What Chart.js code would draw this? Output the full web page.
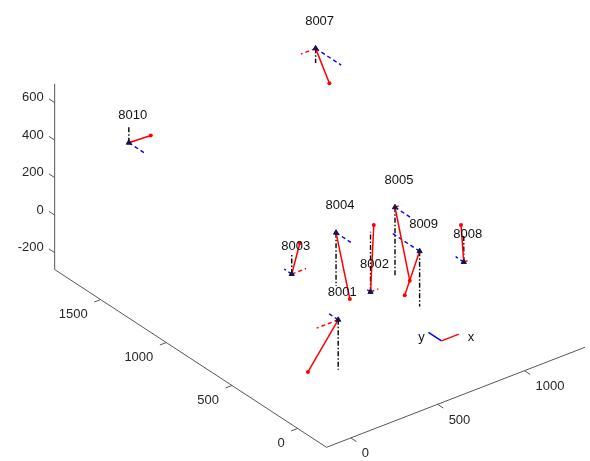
<!DOCTYPE html>
<html>
<head>
<meta charset="utf-8">
<script src="https://cdn.jsdelivr.net/npm/chart.js@4.4.1/dist/chart.umd.min.js"></script>
<style>
  html, body { margin: 0; padding: 0; background: #ffffff; }
  #wrap { width: 590px; height: 461px; position: relative; }
</style>
</head>
<body>
<div id="wrap"><canvas id="c"></canvas></div>
<script>
// Monitoring stations: position in the site frame
const stations = ['8001', '8002', '8003', '8004', '8005', '8007', '8008', '8009', '8010'];
const posX = [307, 578, 392, 781, 1135, 1208, 1081, 981, 114];
const posY = [282, 394, 748, 925, 944, 1645, 349, 553, 1621];
const posZ = [0, 0, 0, 0, 0, 500, 0, 0, 400];

// Component lines drawn from each station (x: red dashed, y: blue dashed, z: black dash-dot)
const compX = [-124, 45, 82, 3, 38, -85, 28, 5, 25];
const compY = [74, 27, 57, -113, -130, -195, 62, 218, -123];
const compZ = [-266, 321, 104, -284, -365, -78, 139, -295, 91];

// Resulting vector for each station (red solid, dot at the tip)
const vecX = [-122, 49, 93, -22, 26, -62, 50, 9, 25];
const vecY = [69, 40, 61, -134, -78, -187, 87, 125, -134];
const vecZ = [-266, 321, 104, -284, -365, -78, 139, -295, 91];

// Axis limits and ticks
const xLim = [-140, 1400];
const yLim = [-220, 1850];
const zLim = [-290, 700];
const xTicks = [0, 500, 1000];
const yTicks = [0, 500, 1000, 1500];
const zTicks = [-200, 0, 200, 400, 600];

// Orientation glyph (origin and arm length)
const glyphOrigin = [564, -165, 0];
const glyphLen = 100;

// ---- view: orthographic projection of the 3D frame onto the page ----
const VIEW = {
  o: [322.4, 367.6],
  ex: [0.1766, -0.0687],
  ey: [-0.1336, -0.0878],
  ez: [0, -0.1917]
};
function project(x, y, z) {
  return {
    x: VIEW.o[0] + x * VIEW.ex[0] + y * VIEW.ey[0] + z * VIEW.ez[0],
    y: VIEW.o[1] + x * VIEW.ex[1] + y * VIEW.ey[1] + z * VIEW.ez[1]
  };
}
function unit(v) { const n = Math.hypot(v[0], v[1]); return [v[0] / n, v[1] / n]; }

const RED = '#ff0000', BLUE = '#0000ff', BLACK = '#000000', AXIS = '#555555';
const TICK_LEN = 7;

const datasets = [];
function segment(a, b, opts) {
  datasets.push(Object.assign({
    data: [a, b],
    showLine: true,
    fill: false,
    borderWidth: 1.4,
    pointRadius: 0,
    pointHoverRadius: 0,
    order: 2
  }, opts));
}

// axis lines
const corner = project(xLim[0], yLim[0], zLim[0]);
segment(project(xLim[0], yLim[1], zLim[0]), corner, { borderColor: AXIS, borderWidth: 1, order: 5 });
segment(corner, project(xLim[1], yLim[0], zLim[0]), { borderColor: AXIS, borderWidth: 1, order: 5 });
segment(project(xLim[0], yLim[1], zLim[0]), project(xLim[0], yLim[1], zLim[1]), { borderColor: AXIS, borderWidth: 1, order: 5 });

// tick marks
const dirX = unit([-VIEW.ey[0], -VIEW.ey[1]]);   // ticks on the x axis
const dirY = unit([-VIEW.ex[0], -VIEW.ex[1]]);   // ticks on the y axis
const dirZ = unit([VIEW.ey[0], VIEW.ey[1]]);     // ticks on the z axis
const tickAnchors = { x: [], y: [], z: [] };
xTicks.forEach(v => {
  const p = project(v, yLim[0], zLim[0]);
  tickAnchors.x.push(p);
  segment(p, { x: p.x + dirX[0] * TICK_LEN, y: p.y + dirX[1] * TICK_LEN }, { borderColor: AXIS, borderWidth: 1, order: 5 });
});
yTicks.forEach(v => {
  const p = project(xLim[0], v, zLim[0]);
  tickAnchors.y.push(p);
  segment(p, { x: p.x + dirY[0] * TICK_LEN, y: p.y + dirY[1] * TICK_LEN }, { borderColor: AXIS, borderWidth: 1, order: 5 });
});
zTicks.forEach(v => {
  const p = project(xLim[0], yLim[1], v);
  tickAnchors.z.push(p);
  segment(p, { x: p.x + dirZ[0] * TICK_LEN, y: p.y + dirZ[1] * TICK_LEN }, { borderColor: AXIS, borderWidth: 1, order: 5 });
});

// station component lines and vectors
const markerPts = [];
stations.forEach((name, i) => {
  const X = posX[i], Y = posY[i], Z = posZ[i];
  const s = project(X, Y, Z);
  markerPts.push(s);
  segment(s, project(X, Y, Z + compZ[i]), { borderColor: BLACK, borderDash: [5, 2, 1.5, 2], order: 3 });
  segment(s, project(X, Y + compY[i], Z), { borderColor: BLUE, borderDash: [4, 3], order: 2 });
  segment(s, project(X + compX[i], Y, Z), { borderColor: RED, borderDash: [4, 3], order: 2 });
  segment(s, project(X + vecX[i], Y + vecY[i], Z + vecZ[i]), {
    borderColor: RED, borderWidth: 1.5, order: 1,
    pointRadius: [0, 2], pointBackgroundColor: RED, pointBorderColor: RED, pointBorderWidth: 0
  });
});

// station markers
datasets.push({
  data: markerPts,
  showLine: false,
  pointStyle: 'triangle',
  pointRadius: 3,
  pointBackgroundColor: '#15154a',
  pointBorderColor: '#15154a',
  pointBorderWidth: 1,
  order: 0
});

// orientation glyph
const gO = project(glyphOrigin[0], glyphOrigin[1], glyphOrigin[2]);
const gX = project(glyphOrigin[0] + glyphLen, glyphOrigin[1], glyphOrigin[2]);
const gY = project(glyphOrigin[0], glyphOrigin[1] + glyphLen, glyphOrigin[2]);
segment(gO, gX, { borderColor: RED, borderWidth: 1.5, order: 1 });
segment(gO, gY, { borderColor: BLUE, borderWidth: 1.5, order: 1 });

const LABEL_LIFT = 145;
const FONT = '13px "Liberation Sans", Arial, Helvetica, sans-serif';

const textPlugin = {
  id: 'text3d',
  afterDatasetsDraw(chart) {
    const ctx = chart.ctx, sx = chart.scales.x, sy = chart.scales.y;
    const px = p => ({ x: sx.getPixelForValue(p.x), y: sy.getPixelForValue(p.y) });
    ctx.save();
    ctx.font = FONT;
    ctx.fillStyle = '#262626';
    ctx.textBaseline = 'middle';

    // z tick labels
    ctx.textAlign = 'right';
    zTicks.forEach((v, k) => {
      const a = px(tickAnchors.z[k]);
      ctx.fillText(String(v), a.x + dirZ[0] * TICK_LEN - 5, a.y + dirZ[1] * TICK_LEN - 1);
    });
    // y tick labels
    yTicks.forEach((v, k) => {
      const a = px(tickAnchors.y[k]);
      ctx.fillText(String(v), a.x - 13, a.y + 15);
    });
    // x tick labels
    ctx.textAlign = 'left';
    xTicks.forEach((v, k) => {
      const a = px(tickAnchors.x[k]);
      ctx.fillText(String(v), a.x + 11, a.y + 16);
    });

    // station names
    ctx.fillStyle = '#111111';
    ctx.textAlign = 'center';
    stations.forEach((name, i) => {
      const a = px(project(posX[i], posY[i], posZ[i] + LABEL_LIFT));
      ctx.fillText(name, a.x + 4, a.y);
    });

    // glyph letters
    const ax = px(gX), ay = px(gY);
    ctx.fillText('x', ax.x + 12, ax.y + 3);
    ctx.fillText('y', ay.x - 7, ay.y + 5);
    ctx.restore();
  }
};

new Chart(document.getElementById('c'), {
  type: 'scatter',
  data: { datasets },
  options: {
    responsive: true,
    maintainAspectRatio: false,
    animation: false,
    layout: { padding: 0 },
    scales: {
      x: { type: 'linear', min: 0, max: 590, display: false },
      y: { type: 'linear', min: 0, max: 461, reverse: true, display: false }
    },
    plugins: { legend: { display: false }, tooltip: { enabled: false } },
    events: []
  },
  plugins: [textPlugin]
});
</script>
</body>
</html>
